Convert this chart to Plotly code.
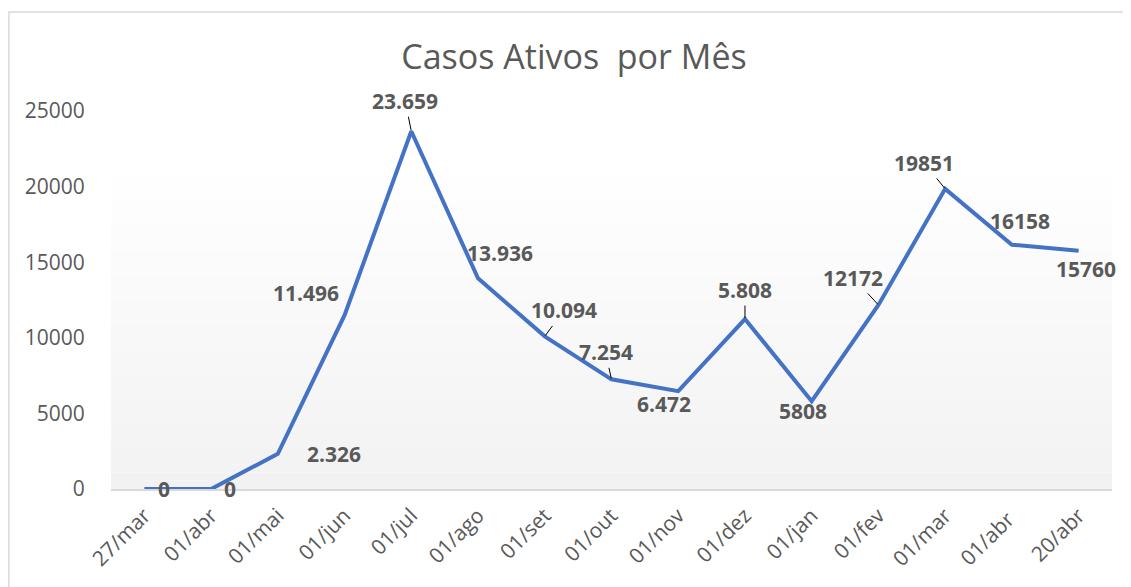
import plotly.graph_objects as go

# Dados
datas = ["27/mar", "01/abr", "01/mai", "01/jun", "01/jul", "01/ago", "01/set", "01/out",
         "01/nov", "01/dez", "01/jan", "01/fev", "01/mar", "01/abr ", "20/abr"]
casos = [0, 0, 2326, 11496, 23659, 13936, 10094, 7254, 6472, 11240, 5808, 12172, 19851, 16158, 15760]
rotulos = ["0", "0", "2.326", "11.496", "23.659", "13.936", "10.094", "7.254", "6.472", "5.808",
           "5808", "12172", "19851", "16158", "15760"]

# posição dos rótulos (dx, dy em px) e se tem linha de chamada
pos_rotulos = [(20, 0, False), (19, 0, False), (56, 0, False), (-39, -22, False), (-6, -30, True),
               (22, -25, False), (19, -26, True), (-6, -27, True), (-14, 13, False), (0, -29, True),
               (-9, 10, False), (-25, -27, True), (-21, -26, True), (8, -24, False), (7, 18, False)]

cinza = "#595959"
fonte = "Open Sans"
fig = go.Figure()
fig.add_trace(go.Scatter(x=datas, y=casos, mode="lines", line=dict(color="#4472C4", width=4),
                         hoverinfo="skip", cliponaxis=False))

for d, v, t, (dx, dy, seta) in zip(datas, casos, rotulos, pos_rotulos):
    if seta:
        fig.add_annotation(x=d, y=v, text=f"<b>{t}</b>", showarrow=True, arrowhead=0, arrowwidth=1,
                           arrowcolor="black", ax=dx, ay=dy, standoff=1,
                           font=dict(size=21, color=cinza, family=fonte))
    else:
        fig.add_annotation(x=d, y=v, text=f"<b>{t}</b>", showarrow=False, xshift=dx, yshift=-dy,
                           font=dict(size=21, color=cinza, family=fonte))

# fundo em degradê
n = 40
topo = 0.87
for i in range(n):
    g = int(round(255 - (255 - 242) * (i + 0.5) / n))
    fig.add_shape(type="rect", xref="paper", yref="y domain", x0=0, x1=1,
                  y0=topo - (i + 1) * topo / n, y1=topo - i * topo / n,
                  fillcolor=f"rgb({g},{g},{g})", line_width=0, layer="below")

# borda do gráfico
fig.add_shape(type="rect", xref="paper", yref="paper", x0=-0.102, x1=1.05, y0=-0.4, y1=1.262,
              line=dict(color="#D9D9D9", width=1.5), fillcolor="rgba(0,0,0,0)", layer="below")

fig.update_xaxes(type="category", range=[-0.5, 14.5], showgrid=False, showline=True,
                 linecolor="#D9D9D9", linewidth=2, tickangle=-45, ticks="",
                 ticklabelstandoff=4,
                 tickfont=dict(size=21, color=cinza, family=fonte))
fig.update_yaxes(range=[0, 25000], tickvals=[0, 5000, 10000, 15000, 20000, 25000],
                 ticktext=["0", "5000", "10000", "15000", "20000", "25000"],
                 showgrid=False, zeroline=False, showline=False, ticks="outside",
                 ticklen=21, tickcolor="rgba(0,0,0,0)",
                 tickfont=dict(size=21, color=cinza, family=fonte))
fig.update_layout(width=1131, height=587, template="none",
                  paper_bgcolor="white", plot_bgcolor="rgba(0,0,0,0)",
                  margin=dict(l=103, r=27, t=103, b=106), showlegend=False,
                  title=dict(text="Casos Ativos  por Mês", x=(574 - 8) / 1131, xanchor="center",
                             y=1 - (57 - 8) / 587, yanchor="middle",
                             font=dict(size=34, color=cinza, family=fonte)))

fig.write_html("out.html")
